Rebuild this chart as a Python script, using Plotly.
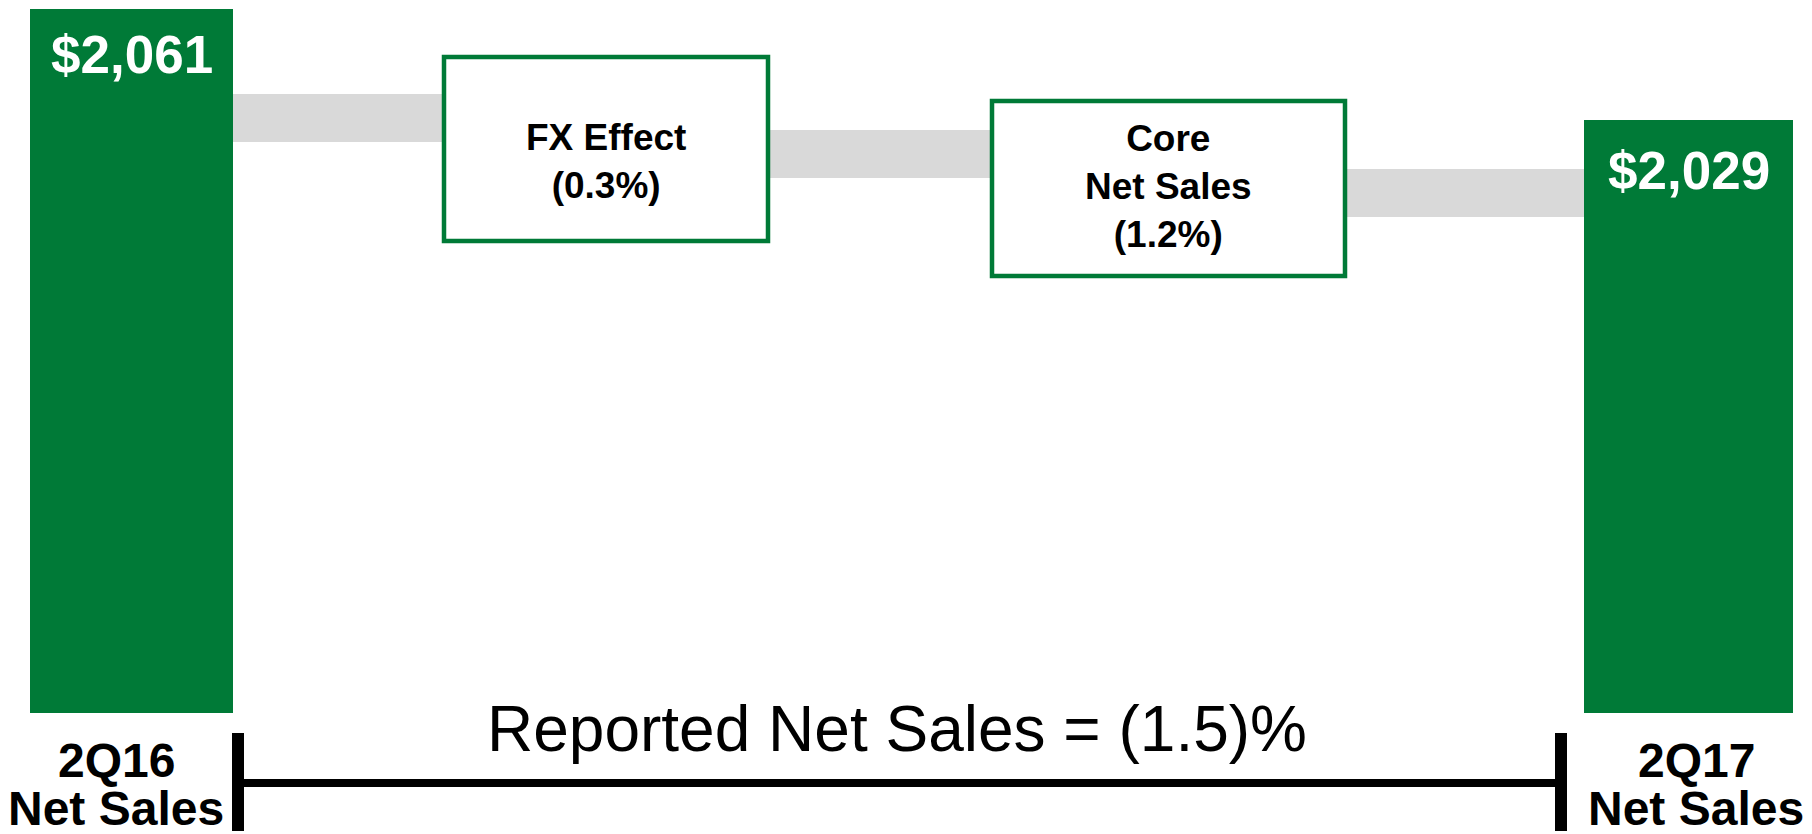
import plotly.graph_objects as go

# ---------------- data ----------------
periods = ["2Q16", "2Q17"]
period_sub = ["Net Sales", "Net Sales"]
net_sales = [2061, 2029]
bridge_items = ["FX Effect", "Core<br>Net Sales"]
bridge_pct = [-0.3, -1.2]
reported_pct = -1.5

# ---------------- style / layout ----------------
GREEN = "#007A37"
GRAY = "#D9D9D9"
FONT = "Liberation Sans, Arial, sans-serif"
W, H = 1812, 834
PLOT_H = 713  # plot area height (px), bars sit on its bottom

# schematic (not-to-scale) axis floor so bar tops land as in the original
Y_FLOOR = 1858.05
Y_TOP = 2063.6

bar_x = [131.5, 1688.5]
bar_w = [203, 209]
label_x = [116, 1696]

# bridge boxes (px): x0, x1, y0, y1
box_geo = [(444, 768, 57, 241), (992, 1345, 101, 276)]
box_text_y = [161, 187]
# gray connectors (px): x0, x1, y0, y1
conn_geo = [(233, 444, 94, 142), (768, 992, 130, 178), (1345, 1584, 169, 217)]


def yp(px):
    """pixel-from-top -> paper fraction of plot area"""
    return (PLOT_H - px) / PLOT_H


fig = go.Figure()
fig.add_trace(go.Bar(
    x=bar_x, y=net_sales, width=bar_w,
    marker=dict(color=GREEN, line=dict(width=0)),
    hoverinfo="skip", showlegend=False,
))

shapes = []
for (x0, x1, y0, y1) in conn_geo:
    shapes.append(dict(type="rect", xref="x", yref="paper",
                       x0=x0, x1=x1, y0=yp(y1), y1=yp(y0),
                       fillcolor=GRAY, line=dict(width=0), layer="below"))
for (x0, x1, y0, y1) in box_geo:
    shapes.append(dict(type="rect", xref="x", yref="paper",
                       x0=x0, x1=x1, y0=yp(y1), y1=yp(y0),
                       fillcolor="white", line=dict(color=GREEN, width=4.5),
                       layer="above"))

# bracket for reported change
brk_l, brk_r = 238, 1561
shapes += [
    dict(type="line", xref="x", yref="paper", x0=brk_l, x1=brk_l,
         y0=yp(733), y1=yp(831), line=dict(color="black", width=12)),
    dict(type="line", xref="x", yref="paper", x0=brk_r, x1=brk_r,
         y0=yp(733), y1=yp(831), line=dict(color="black", width=12)),
    dict(type="line", xref="x", yref="paper", x0=brk_l, x1=brk_r,
         y0=yp(783), y1=yp(783), line=dict(color="black", width=8)),
]

annotations = []
# value labels on bars
value_y = [54, 171]
for xv, v, ty in zip(bar_x, net_sales, value_y):
    annotations.append(dict(
        x=xv, y=yp(ty), xref="x", yref="paper", showarrow=False,
        text=f"<b>${v:,}</b>", font=dict(family=FONT, size=53, color="white"),
        xanchor="center", yanchor="middle"))
# bridge box labels
for (x0, x1, y0, y1), name, p, ty in zip(box_geo, bridge_items, bridge_pct, box_text_y):
    annotations.append(dict(
        x=(x0 + x1) / 2, y=yp(ty), xref="x", yref="paper", showarrow=False,
        text=f"<b>{name}<br>({abs(p):.1f}%)</b>",
        font=dict(family=FONT, size=37, color="black"),
        xanchor="center", yanchor="middle", align="center"))
# period labels
for xv, p, s in zip(label_x, periods, period_sub):
    annotations.append(dict(
        x=xv, y=yp(760), xref="x", yref="paper", showarrow=False,
        text=f"<b>{p}</b>", font=dict(family=FONT, size=48, color="black"),
        xanchor="center", yanchor="middle"))
    annotations.append(dict(
        x=xv, y=yp(808), xref="x", yref="paper", showarrow=False,
        text=f"<b>{s}</b>", font=dict(family=FONT, size=48, color="black"),
        xanchor="center", yanchor="middle"))
# reported change text
annotations.append(dict(
    x=897, y=yp(729), xref="x", yref="paper", showarrow=False,
    text=f"Reported Net Sales = ({abs(reported_pct):.1f})%",
    font=dict(family=FONT, size=64, color="black"),
    xanchor="center", yanchor="middle"))

fig.update_layout(
    width=W, height=H,
    margin=dict(l=0, r=0, t=0, b=H - PLOT_H, pad=0),
    paper_bgcolor="white", plot_bgcolor="white",
    xaxis=dict(range=[0, W], visible=False, fixedrange=True),
    yaxis=dict(range=[Y_FLOOR, Y_TOP], visible=False, fixedrange=True),
    shapes=shapes, annotations=annotations,
    showlegend=False,
)

fig.write_html(
    "out.html",
    config={"displayModeBar": False, "staticPlot": True},
    post_script="document.body.style.margin='0';document.body.style.overflow='hidden';",
)
